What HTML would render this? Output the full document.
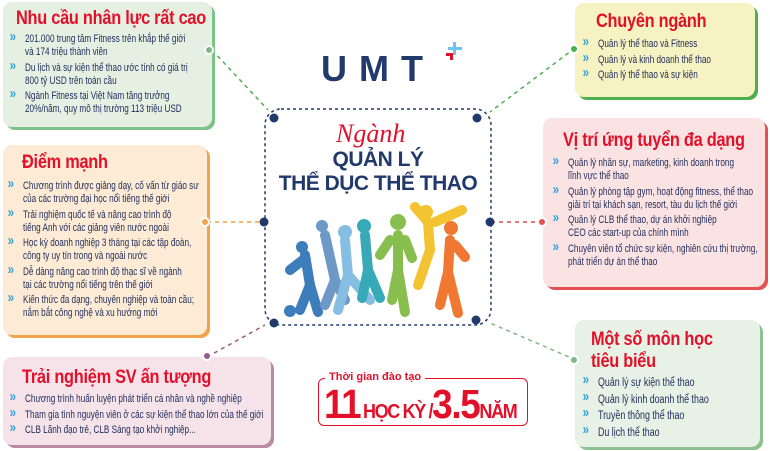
<!DOCTYPE html>
<html><head><meta charset="utf-8">
<style>
*{margin:0;padding:0;box-sizing:border-box}
body{width:770px;height:451px;background:#fff;position:relative;overflow:hidden;font-family:"Liberation Sans",sans-serif;color:#1f2f5e}
.box{position:absolute;border-radius:9px}
.t{position:absolute;color:#e3102a;font-family:"Liberation Sans",sans-serif;font-weight:bold;letter-spacing:-0.3px;transform:scaleX(0.86);transform-origin:left top;white-space:nowrap}
ul{position:absolute;list-style:none;font-size:10.6px;line-height:13px;transform:scaleX(0.77);transform-origin:left top;color:#1d2b5a;width:400px}
li{position:relative;padding-left:26px;margin-bottom:2.5px;white-space:nowrap}
li:before{content:"»";position:absolute;left:6px;top:-3px;color:#2aa3e0;font-size:15px;font-weight:bold}
.dot{position:absolute;width:10px;height:10px;border-radius:50%;border:2px solid #fff}
svg{position:absolute;left:0;top:0}
</style></head><body>
<svg width="770" height="451">
<g fill="none" stroke-width="1.5" stroke-dasharray="4,4">
<line x1="212" y1="50" x2="268" y2="110" stroke="#4caf50"/>
<line x1="207" y1="222" x2="262" y2="222" stroke="#f0a040"/>
<line x1="207" y1="357" x2="265" y2="325" stroke="#9a5a88"/>
<line x1="575" y1="48" x2="490" y2="112" stroke="#4caf50"/>
<line x1="543" y1="222" x2="492" y2="222" stroke="#e55050"/>
<line x1="576" y1="360" x2="490" y2="323" stroke="#7fb88a"/>
<rect x="265" y="109" width="226" height="216" rx="16" stroke="#213a6b" stroke-dasharray="3,3"/>
</g>
<g fill="#213a6b"><circle cx="274" cy="118" r="4.5"/><circle cx="477" cy="118" r="4.5"/><circle cx="264" cy="222" r="4.5"/><circle cx="490" cy="222" r="4.5"/><circle cx="274" cy="323" r="4.5"/><circle cx="476" cy="320" r="4.5"/></g>
<g stroke-linecap="round" fill="none" stroke-width="10" opacity="0.9">
<g stroke="#2a6fb5"><line x1="305" y1="255" x2="310" y2="285"/><line x1="310" y1="285" x2="300" y2="310"/><line x1="310" y1="285" x2="318" y2="312"/><line x1="303" y1="260" x2="290" y2="270"/></g>
<circle cx="302" cy="247" r="6" fill="#2a6fb5"/><circle cx="290" cy="311" r="6" fill="#2a6fb5"/>
<g stroke="#5f8fc0"><line x1="325" y1="235" x2="335" y2="280"/><line x1="335" y1="280" x2="325" y2="305"/><line x1="335" y1="280" x2="345" y2="300"/></g>
<circle cx="322" cy="226" r="6" fill="#5f8fc0"/>
<g stroke="#7ab7e0"><line x1="345" y1="240" x2="348" y2="275"/><line x1="348" y1="275" x2="338" y2="310"/><line x1="348" y1="275" x2="370" y2="300"/></g>
<circle cx="345" cy="232" r="7" fill="#7ab7e0"/>
<g stroke="#23a0b0"><line x1="365" y1="235" x2="368" y2="270"/><line x1="368" y1="270" x2="362" y2="298"/><line x1="368" y1="270" x2="380" y2="298"/></g>
<circle cx="364" cy="226" r="7" fill="#23a0b0"/>
<g stroke="#7cb83a"><line x1="398" y1="235" x2="398" y2="270"/><line x1="398" y1="270" x2="392" y2="300"/><line x1="398" y1="270" x2="405" y2="312"/><line x1="390" y1="240" x2="380" y2="255"/><line x1="405" y1="240" x2="412" y2="258"/></g>
<circle cx="398" cy="222" r="8" fill="#7cb83a"/>
<g stroke="#f2bd1c"><line x1="428" y1="222" x2="430" y2="250"/><line x1="435" y1="222" x2="462" y2="210"/><line x1="428" y1="222" x2="415" y2="207"/><line x1="430" y1="250" x2="418" y2="285"/></g>
<circle cx="426" cy="212" r="7" fill="#f2bd1c"/>
<g stroke="#ef6a1c"><line x1="450" y1="240" x2="448" y2="272"/><line x1="448" y1="272" x2="440" y2="305"/><line x1="448" y1="272" x2="458" y2="313"/><line x1="455" y1="245" x2="465" y2="257"/></g>
<circle cx="451" cy="228" r="7" fill="#ef6a1c"/>
</g>
</svg>
<div style="position:absolute;left:321px;top:48px;font:bold 36px 'Liberation Sans',sans-serif;color:#213a6b;letter-spacing:12px">UMT</div>
<div style="position:absolute;left:453px;top:42px;width:3px;height:13px;background:#6cc3ec"></div><div style="position:absolute;left:448px;top:47px;width:14px;height:3px;background:#6cc3ec"></div>
<div style="position:absolute;left:446px;top:53px;width:7px;height:3px;background:#e3102a"></div><div style="position:absolute;left:450px;top:53px;width:3px;height:7px;background:#e3102a"></div>
<div style="position:absolute;left:336px;top:119px;font:italic 26px 'Liberation Serif',serif;color:#e3102a">Ngành</div>
<div style="position:absolute;left:265px;top:148px;width:226px;text-align:center;font:bold 21px 'Liberation Sans',sans-serif;color:#213a6b;line-height:24px;letter-spacing:-0.5px">QUẢN LÝ<br>THỂ DỤC THỂ THAO</div>

<div class="box" style="left:3px;top:2px;width:209px;height:125px;background:#e5f0e3;box-shadow:3px 3px 0 #7cc38a"></div>
<div class="t" style="left:16px;top:8px;font-size:19px">Nhu cầu nhân lực rất cao</div>
<ul style="left:5px;top:33px"><li>201.000 trung tâm Fitness trên khắp thế giới<br>và 174 triệu thành viên</li><li>Du lịch và sự kiện thể thao ước tính có giá trị<br>800 tỷ USD trên toàn cầu</li><li>Ngành Fitness tại Việt Nam tăng trưởng<br>20%/năm, quy mô thị trường 113 triệu USD</li></ul>
<div class="dot" style="left:204px;top:45px;background:#7cb88a"></div>

<div class="box" style="left:3px;top:145px;width:204px;height:190px;background:#fdebd5;box-shadow:3px 3px 0 #f3a34a"></div>
<div class="t" style="left:22px;top:152px;font-size:19px">Điểm mạnh</div>
<ul style="left:3px;top:180px"><li>Chương trình được giảng dạy, cố vấn từ giáo sư<br>của các trường đại học nổi tiếng thế giới</li><li>Trải nghiệm quốc tế và nâng cao trình độ<br>tiếng Anh với các giảng viên nước ngoài</li><li>Học kỳ doanh nghiệp 3 tháng tại các tập đoàn,<br>công ty uy tín trong và ngoài nước</li><li>Dễ dàng nâng cao trình độ thạc sĩ về ngành<br>tại các trường nổi tiếng trên thế giới</li><li>Kiến thức đa dạng, chuyên nghiệp và toàn cầu;<br>nắm bắt công nghệ và xu hướng mới</li></ul>
<div class="dot" style="left:200px;top:217px;background:#f3a34a"></div>

<div class="box" style="left:3px;top:357px;width:268px;height:88px;background:#f6e3e9;box-shadow:3px 3px 0 #b98aa0"></div>
<div class="t" style="left:22px;top:367px;font-size:19px">Trải nghiệm SV ấn tượng</div>
<ul style="left:5px;top:393px"><li>Chương trình huấn luyện phát triển cá nhân và nghề nghiệp</li><li>Tham gia tình nguyện viên ở các sự kiện thể thao lớn của thế giới</li><li>CLB Lãnh đạo trẻ, CLB Sáng tạo khởi nghiệp...</li></ul>
<div class="dot" style="left:202px;top:351px;background:#9a5a88"></div>

<div class="box" style="left:575px;top:3px;width:180px;height:94px;background:#f7f2c2;box-shadow:3px 3px 0 #4caf50"></div>
<div class="t" style="left:596px;top:11px;font-size:19px">Chuyên ngành</div>
<ul style="left:578px;top:38px"><li>Quản lý thể thao và Fitness</li><li>Quản lý và kinh doanh thể thao</li><li>Quản lý thể thao và sự kiện</li></ul>
<div class="dot" style="left:569px;top:44px;background:#4caf50"></div>

<div class="box" style="left:543px;top:118px;width:222px;height:169px;background:#fce3e3;box-shadow:3px 3px 0 #e55050"></div>
<div class="t" style="left:563px;top:130px;font-size:19px">Vị trí ứng tuyển đa dạng</div>
<ul style="left:548px;top:157px"><li>Quản lý nhân sự, marketing, kinh doanh trong<br>lĩnh vực thể thao</li><li>Quản lý phòng tập gym, hoạt động fitness, thể thao<br>giải trí tại khách sạn, resort, tàu du lịch thế giới</li><li>Quản lý CLB thể thao, dự án khởi nghiệp<br>CEO các start-up của chính mình</li><li>Chuyên viên tổ chức sự kiện, nghiên cứu thị trường,<br>phát triển dự án thể thao</li></ul>
<div class="dot" style="left:537px;top:217px;background:#e55050"></div>

<div class="box" style="left:575px;top:320px;width:185px;height:127px;background:#e8f1e5;box-shadow:3px 3px 0 #8fc08f"></div>
<div class="t" style="left:591px;top:329px;font-size:19px;line-height:22px">Một số môn học<br>tiêu biểu</div>
<ul style="left:578px;top:376px;font-size:11.5px;line-height:14px"><li>Quản lý sự kiện thể thao</li><li>Quản lý kinh doanh thể thao</li><li>Truyền thông thể thao</li><li>Du lịch thể thao</li></ul>
<div class="dot" style="left:569px;top:355px;background:#7fb88a"></div>

<div style="position:absolute;left:318px;top:378px;width:210px;height:48px;border:1.5px solid #e3102a;border-radius:6px"></div>
<div style="position:absolute;left:325px;top:371px;background:#fff;padding:0 4px;font:bold 11px 'Liberation Sans',sans-serif;color:#e3102a">Thời gian đào tạo</div>
<div style="position:absolute;left:324px;top:381px;color:#e3102a;font-family:'Liberation Sans',sans-serif;font-weight:bold;white-space:nowrap;letter-spacing:-1.5px;transform:scaleX(0.9);transform-origin:left top"><span style="font-size:41px">11</span> <span style="font-size:20px">HỌC KỲ /</span><span style="font-size:41px">3.5</span><span style="font-size:20px">NĂM</span></div>
</body></html>
